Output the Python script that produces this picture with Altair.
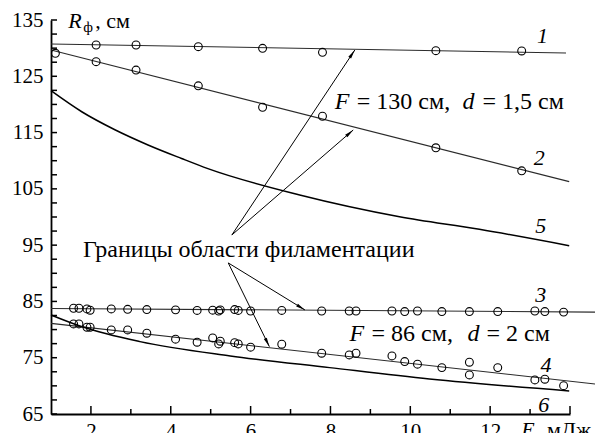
import math
import altair as alt
import pandas as pd

# ---------------- data ----------------
X_DOMAIN = [1, 14]
Y_DOMAIN = [65, 135]

# straight fitted lines 1-4 (end points)
line1_x = [1.0, 13.9]
line1_y = [130.74, 129.14]
line2_x = [1.0, 13.98]
line2_y = [129.67, 106.28]
line3_x = [1.0, 14.8]
line3_y = [83.75, 83.1]
line4_x = [1.0, 14.8]
line4_y = [81.1, 70.2]

# curves 5 and 6
line5_x = [1.0, 1.77, 2.6, 3.43, 4.27, 4.93, 7.23, 9.73, 11.73, 13.98]
line5_y = [122.44, 118.7, 115.5, 112.8, 110.4, 108.6, 103.92, 100.06, 97.82, 94.91]
line6_x = [1.0, 1.78, 3.23, 5.49, 7.98, 10.48, 13.98]
line6_y = [82.6, 80.5, 77.86, 75.32, 73.24, 71.23, 69.1]

# measured points
p1_x = [2.13, 3.13, 4.69, 6.30, 7.80, 10.64, 12.79]
p1_y = [130.56, 130.56, 130.26, 129.97, 129.26, 129.55, 129.5]
p2_x = [1.11, 2.13, 3.13, 4.69, 6.30, 7.80, 10.64, 12.79]
p2_y = [129.09, 127.6, 126.1, 123.3, 119.5, 117.9, 112.3, 108.2]
p3_x = [1.565, 1.70, 1.90, 1.98, 2.51, 2.92, 3.40, 4.12, 4.66, 5.05, 5.20, 5.24,
        5.60, 5.69, 6.00, 6.78, 7.78, 8.47, 8.64, 9.54, 9.86, 10.18, 10.79,
        11.48, 12.19, 13.12, 13.37, 13.84]
p3_y = [83.79, 83.79, 83.67, 83.44, 83.67, 83.6, 83.55, 83.5, 83.4, 83.45, 83.3, 83.5,
        83.55, 83.4, 83.3, 83.4, 83.3, 83.3, 83.3, 83.3, 83.2, 83.3, 83.2,
        83.2, 83.2, 83.3, 83.2, 83.1]
p4_x = [1.565, 1.70, 1.90, 1.98, 2.51, 2.92, 3.40, 4.12, 4.66, 5.05, 5.20, 5.24,
        5.60, 5.69, 6.00, 6.78, 7.78, 8.47, 8.64, 9.54, 9.86, 10.18, 10.79,
        11.48, 11.48, 12.19, 13.12, 13.37, 13.84]
p4_y = [81.0, 81.0, 80.42, 80.42, 79.94, 79.94, 79.35, 78.29, 77.75, 78.52, 77.45, 77.93,
        77.68, 77.45, 76.87, 77.4, 75.8, 75.5, 75.8, 75.32, 74.31, 73.85, 73.24,
        74.2, 71.94, 73.24, 71.06, 71.18, 70.04]

# axis ticks / labels
x_label_values = [2, 4, 6, 8, 10, 12]
x_major_ticks = [2, 4, 6, 8, 10, 12, 14]
x_minor_ticks = [3, 5, 7, 9, 11, 13]
y_label_values = [65, 75, 85, 95, 105, 115, 125, 135]
y_tick_values = [65, 67.5, 70, 72.5, 75, 77.5, 80, 82.5, 85, 87.5, 90, 92.5, 95, 97.5,
                 100, 102.5, 105, 107.5, 110, 112.5, 115, 117.5, 120, 122.5, 125,
                 127.5, 130, 132.5, 135]

# curve numbers
num_text = ["1", "2", "5", "3", "4", "6"]
num_x = [13.31, 13.23, 13.27, 13.27, 13.40, 13.34]
num_y = [130.9, 109.25, 97.17, 84.97, 72.53, 65.43]

# annotation texts (pieces)
ann_text = ["F", "= 130 см,", "d", "= 1,5 см",
            "F", "= 86 см,", "d", "= 2 см",
            "Границы области филаментации"]
ann_x = [8.11, 8.66, 11.31, 11.81, 8.48, 9.03, 11.43, 11.91, 1.80]
ann_y = [119.14] * 4 + [77.98] * 4 + [92.85]
ann_italic = [True, False, True, False, True, False, True, False, False]

# axis titles (pieces)
ttl_text = ["R", "ф", ", см", "E", ", мДж"]
ttl_x = [1.43, 1.81, 2.11, 12.78, 13.15]
ttl_y = [133.58, 132.87, 133.58, 61.0, 61.0]
ttl_size = [22, 15, 22, 22, 22]
ttl_italic = [True, False, False, True, False]

# arrows
arr_x0 = [5.53, 5.53, 5.44, 5.44]
arr_y0 = [96.81, 96.81, 91.84, 91.84]
arr_x1 = [8.61, 8.57, 7.36, 6.47]
arr_y1 = [129.67, 115.46, 83.49, 76.97]

# ---------------- layout ----------------
W, H = 519, 394
PX_X = W / (X_DOMAIN[1] - X_DOMAIN[0])
PX_Y = H / (Y_DOMAIN[1] - Y_DOMAIN[0])
FONT = "Liberation Serif"
ANN_SIZE = 24

xs = alt.Scale(domain=X_DOMAIN, nice=False, zero=False)
ys = alt.Scale(domain=Y_DOMAIN, nice=False, zero=False)


def X(axis=None, field="x"):
    return alt.X(f"{field}:Q", scale=xs, axis=axis)


def Y(axis=None, field="y"):
    return alt.Y(f"{field}:Q", scale=ys, axis=axis)


def mk(xv, yv, name):
    return pd.DataFrame({"x": xv, "y": yv, "s": name})


straight = pd.concat([mk(line1_x, line1_y, "1"), mk(line2_x, line2_y, "2"),
                      mk(line3_x, line3_y, "3"), mk(line4_x, line4_y, "4")])
curves = pd.concat([mk(line5_x, line5_y, "5"), mk(line6_x, line6_y, "6")])
points = pd.concat([mk(p1_x, p1_y, "1"), mk(p2_x, p2_y, "2"),
                    mk(p3_x, p3_y, "3"), mk(p4_x, p4_y, "4")])
nums = pd.DataFrame({"x": num_x, "y": num_y, "t": num_text})
ann = pd.DataFrame({"x": ann_x, "y": ann_y, "t": ann_text, "it": ann_italic})
ttl = pd.DataFrame({"x": ttl_x, "y": ttl_y, "t": ttl_text, "sz": ttl_size, "it": ttl_italic})
angles = []
for a, b, c, d in zip(arr_x0, arr_y0, arr_x1, arr_y1):
    dx = (c - a) * PX_X
    dy = -(d - b) * PX_Y
    angles.append(math.degrees(math.atan2(dx, -dy)) % 360)
arrows = pd.DataFrame({"x": arr_x0, "y": arr_y0, "x2": arr_x1, "y2": arr_y1, "ang": angles})
xmaj = pd.DataFrame({"v": x_major_ticks})
xmin = pd.DataFrame({"v": x_minor_ticks})
ytk = pd.DataFrame({"v": y_tick_values})

main_x_axis = alt.Axis(orient="bottom", values=x_label_values, ticks=False, tickSize=0,
                       domain=True, domainColor="black", domainWidth=1.8, grid=False,
                       labelFont=FONT, labelFontSize=21, labelColor="black",
                       labelPadding=6, labelBaseline="top", title=None)
main_y_axis = alt.Axis(orient="left", values=y_label_values, ticks=False, tickSize=0,
                       domain=True, domainColor="black", domainWidth=1.8, grid=False,
                       labelFont=FONT, labelFontSize=21, labelColor="black",
                       labelPadding=8, title=None)

l_straight = alt.Chart(straight).mark_line(color="#2b2b2b", strokeWidth=1.1, clip=False).encode(
    x=X(main_x_axis), y=Y(main_y_axis), detail="s:N")
l_curves = alt.Chart(curves).mark_line(color="black", strokeWidth=1.5, interpolate="monotone",
                                       clip=False).encode(
    x=X(), y=Y(), detail="s:N")
l_points = alt.Chart(points).mark_point(shape="circle", filled=False, size=62, color="black",
                                        strokeWidth=1.1, opacity=1).encode(
    x=X(), y=Y())
l_xmaj = alt.Chart(xmaj).mark_rule(color="black", strokeWidth=1.5).encode(
    x=X(field="v"), y=alt.value(H), y2=alt.value(H - 8))
l_xmin = alt.Chart(xmin).mark_rule(color="black", strokeWidth=1.5).encode(
    x=X(field="v"), y=alt.value(H), y2=alt.value(H - 5))
l_ytk = alt.Chart(ytk).mark_rule(color="black", strokeWidth=1.5).encode(
    y=Y(field="v"), x=alt.value(0), x2=alt.value(6))
l_arrows = alt.Chart(arrows).mark_rule(color="black", strokeWidth=1).encode(
    x=X(), y=Y(), x2="x2:Q", y2="y2:Q")
l_heads = alt.Chart(arrows).mark_point(shape="M0,0L0.42,2.3L-0.42,2.3Z", filled=True,
                                       size=64, color="black", opacity=1).encode(
    x=X(field="x2"), y=Y(field="y2"), angle=alt.Angle("ang:Q", scale=None))
l_nums = alt.Chart(nums).mark_text(font=FONT, fontSize=22, fontStyle="italic", align="center",
                                   baseline="alphabetic", color="black").encode(
    x=X(), y=Y(), text="t:N")
l_ann_it = alt.Chart(ann[ann["it"]]).mark_text(font=FONT, fontSize=ANN_SIZE, fontStyle="italic",
                                               align="left", baseline="alphabetic",
                                               color="black").encode(x=X(), y=Y(), text="t:N")
l_ann = alt.Chart(ann[~ann["it"]]).mark_text(font=FONT, fontSize=ANN_SIZE, align="left",
                                             baseline="alphabetic", color="black").encode(
    x=X(), y=Y(), text="t:N")
l_ttl_it = alt.Chart(ttl[ttl["it"]]).mark_text(font=FONT, fontStyle="italic", align="left",
                                               baseline="alphabetic", color="black").encode(
    x=X(), y=Y(), text="t:N", size=alt.Size("sz:Q", scale=None))
l_ttl = alt.Chart(ttl[~ttl["it"]]).mark_text(font=FONT, align="left",
                                             baseline="alphabetic", color="black").encode(
    x=X(), y=Y(), text="t:N", size=alt.Size("sz:Q", scale=None))

chart = alt.layer(l_straight, l_curves, l_points, l_xmaj, l_xmin, l_ytk, l_arrows, l_heads,
                  l_nums, l_ann_it, l_ann, l_ttl_it, l_ttl).resolve_axis(
    x="independent", y="independent").properties(
    width=W, height=H,
    autosize=alt.AutoSizeParams(type="none"),
    padding={"left": 43, "top": 12, "right": 25, "bottom": 40},
    background="white",
).configure_view(stroke=None)

chart.save("out.html", embed_options={"renderer": "svg", "actions": False})
